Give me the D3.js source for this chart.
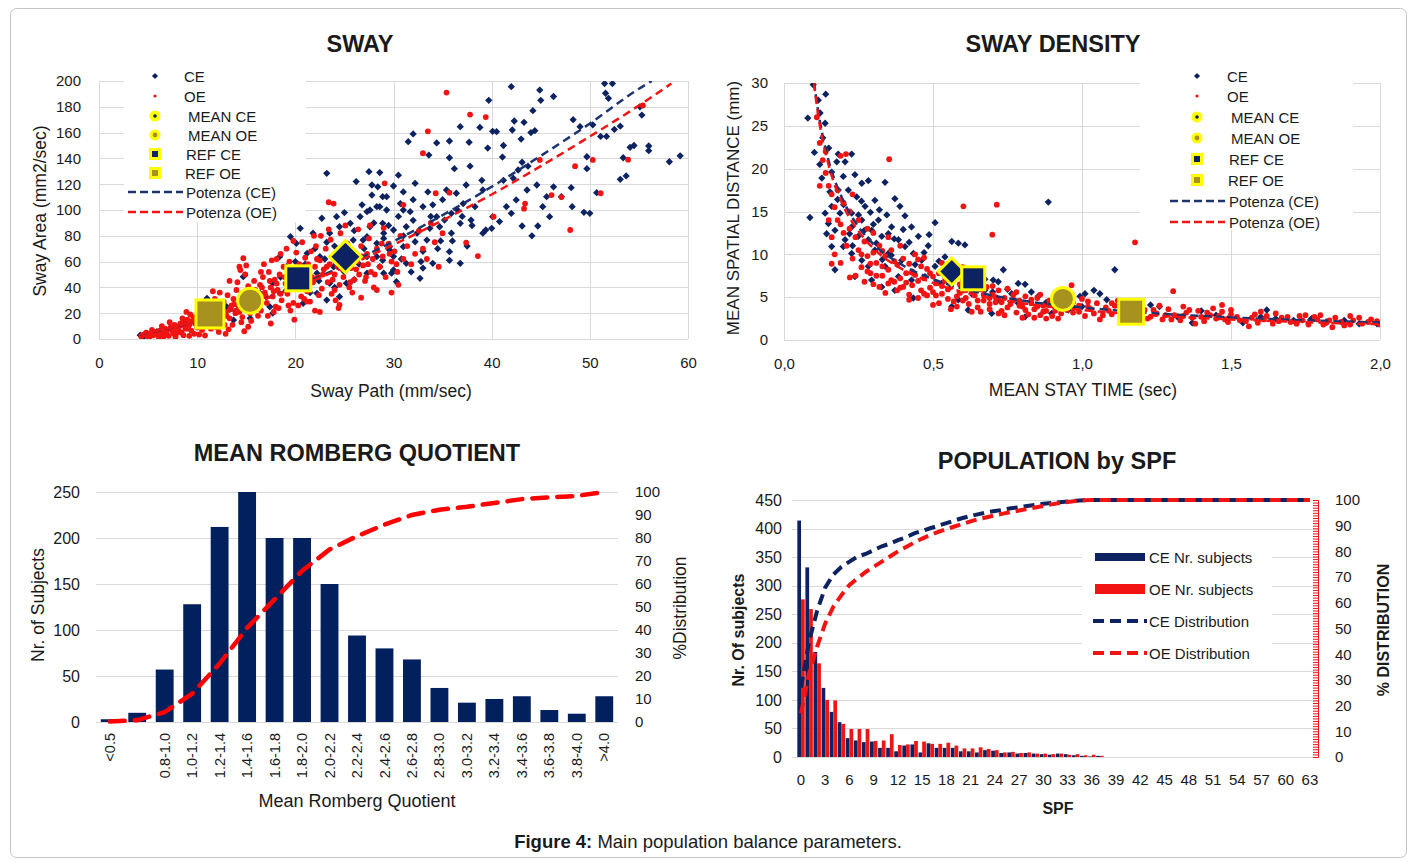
<!DOCTYPE html>
<html>
<head>
<meta charset="utf-8">
<title>Main population balance parameters</title>
<script src="https://cdnjs.cloudflare.com/ajax/libs/d3/7.8.5/d3.min.js"></script>
<style>
body { margin: 0; background: #fff; }
</style>
</head>
<body>
<svg id="fig" width="1414" height="862"></svg>
<script>
// ---------- SWAY (sway path vs sway area) ----------
var swayCE = [
[42.0,195.6],[44.9,193],[45.0,185],[46.3,188],[39.7,185],[44.2,177],[42.3,169],[43.3,168],[38.8,164],[36.8,164.6],[40.1,161],[40.5,160.7],[42.1,162],[44.0,160],[44.4,161.5],[32.0,159],[31.5,153],[34.4,152],[35.7,153.5],[37.7,152.5],[39.6,148],[41.2,150],[43.0,155],[33.6,142.6],[35.7,140.5],[37.8,134],[36.2,132],[41.1,141],[43.1,137],[43.7,134],[48.3,170],[49.0,164.6],[50.3,166],[51.1,157],[51.7,157],[52.5,162.5],[53.1,165],[51.6,190.5],[52.3,198],[51.5,198],[51.9,186.6],[55.3,173.6],[55.1,180],[54.5,150],[56.0,149.6],[56.0,146],[58.1,137.4],[59.2,142],[53.1,123.8],[53.7,126.4],[53.4,140.5],[54.1,148.6],[49.7,141.3],[50.7,113.4],[49.7,132],[48.1,117.3],[48.2,102.6],[49.4,98.2],[50.0,97.4],[47.1,110.3],[45.9,94.8],[45.2,102.6],[44.1,80],[43.1,87.6],[44.7,87.6],[42.0,97.4],[40.8,91],[40.1,94.8],[39.4,84.5],[35.7,61],[35.7,67.7],[34.8,76],[33.7,85.8],[32.2,75.4],[32.7,47],[31.8,52],[30.3,44.4],[29.8,51],[28.6,56],[28.6,129],[30.5,127],[32.2,120.7],[30.0,118.6],[27.8,119.4],[27.8,111.6],[28.9,110.3],[31.0,114],[33.5,114],[35.4,115.5],[36.4,113],[37.4,119.4],[39.0,123],[39.1,115.5],[38.3,102.6],[37.1,105],[35.9,97.4],[35.2,92.2],[34.4,94.8],[33.0,102.6],[31.7,98.7],[30.7,105],[29.3,100],[28.3,102.6],[27.3,98.7],[27.6,87],[28.9,89.7],[30.0,84.5],[31.3,87],[32.4,82],[33.4,76.7],[31.0,71.6],[29.6,71.6],[28.3,74.2],[26.9,76.7],[27.3,63.8],[28.9,61],[31.3,58.7],[34.0,58.7],[36.8,58.7],[34.7,87],[35.9,82],[36.8,89.7],[37.9,92.2],[39.1,82],[40.0,85.8],[41.5,102.6],[42.5,107.8],[43.6,115.5],[44.6,119.4],[46.3,118],[45.6,110.3],[41.2,123],[42.2,124.6],[42.7,131],
[23.2,128.4],[27.5,129.7],[26.2,122],[22.7,93.6],[24.2,94.8],[20.5,85.8],[19.5,79.3],[20.1,74.2],[18.4,63.8],[19.1,56],[17.7,43.2],[14.7,48.3],[11.0,31.5],[4.2,3],[4.9,4.4],[5.9,5.7],[6.9,7],[7.9,9.5],[8.8,12.2],[9.6,14.7],[13.7,14.7],[15.4,16],[17.7,20],[17.4,25],[20.8,27.7],[22.2,35.4],[23.5,43.2],[23.9,56],[22.5,63.8],[21.2,66.4],[21.8,82],[23.5,82],[24.5,87],[25.6,89.7],[26.6,94.8],[27.6,100],[28.6,102.6],[29.3,110.3],[28.4,118],[25.9,76.7],[27.3,79.3],[29.0,82],[26.2,63.8],[28.3,63.8],[29.6,69],[27.3,51],[29.0,51],[30.0,53.5],[22.2,51],[21.2,43.2],[19.1,38],[23.2,30.2],[24.5,32.8],[25.2,43.2],[16.4,35.4],[13.0,25],[4.5,1.5],[5.2,2],
[21,58],[22,70],[23,62],[24,72],[25,52],[26,84],[27,70],[28,90],[29,78],[30,64],[31,80],[32,92],[33,68],[34,104],[30.5,95],[29.5,88],[26.5,58],[25.5,70],[24.8,60],[23.2,75],[22.4,45],[32.8,60],[34.5,70],[36,76],[37,95],[38,88],[36.5,100],[35,108],[33.8,95],[32,108],[31,100],[26.8,104],[25,98],[20,60],[19.5,50],[18.5,48],[21.5,36],[24,40],[26,46],[30.8,62],[37.5,72],[33,55]
];
var swayOE = [
[4.3,2],[4.6,3.5],[5,1.5],[5.2,4],[5.5,2.8],[5.8,5.5],[6,3],[6.2,6.5],[4.8,5],[5.4,7],
[6.5,4],[6.7,8],[6.9,5.5],[7.1,2.5],[7.3,9],[7.5,6],[7.7,11],[7.9,4.5],[8,8.5],[6.4,10],[7.2,13],[7.8,7],
[8.2,10],[8.4,5],[8.6,13],[8.8,8],[9,15],[9.2,11],[9.4,6.5],[9.6,17],[9.8,12],[10,9],[8.5,16],[9.3,19],[8.9,21],[9.7,4],
[10.2,14],[10.4,20],[10.5,7],[10.7,17],[10.9,24],[11.1,11],[11.3,19],[11.5,27],[11.7,14],[11.9,22],[12,9],[10.6,28],[11.8,31],[10.1,25],
[12.2,18],[12.4,25],[12.5,13],[12.7,29],[12.9,21],[13.1,34],[13.3,16],[13.5,26],[13.7,31],[13.9,20],[14,38],[12.3,36],[13.6,11],[14.1,44],
[14.2,24],[14.4,30],[14.6,17],[14.8,35],[15,27],[15.2,41],[15.4,20],[15.6,33],[15.8,45],[16,25],[14.9,50],[15.5,14],[14.3,56],[15.9,38],
[16.2,31],[16.4,42],[16.5,22],[16.7,48],[16.9,36],[17.1,28],[17.3,52],[17.5,40],[17.7,33],[17.9,46],[18,25],[16.8,58],[17.6,61],[17.2,18],
[18.2,38],[18.4,50],[18.6,30],[18.8,56],[19,43],[19.2,35],[19.4,60],[19.6,48],[19.8,28],[20,53],[18.5,66],[19.5,22],[19.1,70],[18.3,24],
[20.2,40],[20.4,58],[20.6,33],[20.8,47],[21,63],[21.2,37],[21.4,52],[21.6,68],[21.8,44],[22,56],[20.7,75],[21.5,29],[22.1,72],[20.3,26],
[22.3,48],[22.5,61],[22.7,39],[22.9,54],[23.1,70],[23.3,44],[23.5,58],[23.7,35],[23.9,65],[24,50],[22.6,80],[23.6,77],[24.1,30],
[24.3,56],[24.5,42],[24.7,68],[24.9,48],[25.1,62],[25.3,74],[25.5,40],[25.7,55],[25.9,66],[26,46],[24.6,82],[25.8,36],
[26.3,60],[26.5,50],[26.7,72],[26.9,57],[27.1,45],[27.3,66],[27.5,78],[27.7,52],[27.9,62],[28,40],[26.4,85],[27.6,88],
[28.3,70],[28.6,56],[28.9,64],[29.2,48],[29.5,74],[29.8,60],[30.1,68],[30.4,52],[30.7,80],[31,62],[29,86],[30.5,42],
[31.4,72],[31.8,58],[32.2,66],[32.6,84],[33,70],[33.4,62],[33.8,90],[34.2,75],[34.6,56],[35,82],
[35.4,191],[37.8,174],[39.4,172],[33.5,161],[33.0,144],[35.7,113.4],[34.3,113],[31.0,104],[37.4,74.6],[38.6,64.3],[40.2,94.8],[46.1,111.6],[47.1,110],[48.0,84.5],[48.5,134],[50.3,138.8],[51.1,113],[53.9,139],[55.4,181],[43.4,105],[43.3,101],[44.9,138.8],[23.4,106],[23.9,105],[29.1,120.7],[14.7,62.6],[14.4,53.5],[22.5,21],[21.2,29],[28.3,38],[24.5,26.4],
[5.1,3.2],[5.7,4.2],[6.3,5],[6.8,6.8],[7.4,7.6],[7.6,4],[8.1,6.5],[8.3,12],[8.7,10.5],[9.1,8],[9.5,13.5],[9.9,16],[10.3,11.5],[10.8,14.5],[11.2,16.5],[11.6,20],[12.1,15],[12.6,22],[13,18],[13.4,24],[13.8,27],[14.3,21],[14.7,28],[15.1,23],[15.3,32],[15.7,29],[16.1,36],[16.3,27],[16.6,40],[17,33],[17.4,45],[17.8,37],[18.1,43],[18.5,35],[18.9,48],[19.3,40],[19.7,54],[19.9,44],[20.5,50],[20.9,42],[21.3,58],[21.7,48],[22.2,62],[22.8,50],[23.2,56],[23.8,46],[24.2,62],[24.8,54],[25.4,58],[26.2,54],[26.8,64],[27.4,58],[28.1,50],[28.8,74],[29.6,66],[30.3,58],[11.4,8],[12.8,11],[14.5,13],[16.2,18],[17.8,21],[19.3,26],[20.9,31],[22.4,34],[24,38],[25.6,44],[27.2,48],[10.2,3.5],[12.2,5.5],[9.2,2.5],[7.8,1.5],[13.2,7.5],[15.2,9.5],[15,57],[13.3,45],[11.6,37],[18.1,62],[16.5,52],[20.1,67],[21.9,80],[23.4,85],[25.1,88],[19.8,76],[6.1,1.2],[6.6,2],[8.6,3],[10.8,2.8],[12.9,4],[14.8,6],[17.5,12],[19.9,15],[22,22],[24.4,24],[26.7,32],[29.8,36]
];
var swayTrendXCE = [4.2, 8, 12, 16, 20, 25, 30, 35, 40, 45, 50, 55, 56.3];
var swayTrendCE = [3.6, 9.8, 18.3, 28.6, 40.4, 57, 75.7, 96, 118, 142, 167, 194, 200];
var swayTrendXOE = [4.2, 8, 12, 16, 20, 25, 30, 35, 40, 45, 50, 55, 58.3];
var swayTrendOE = [3.8, 10.1, 18.5, 28.5, 39.8, 55.6, 73, 92, 112, 134, 157, 181, 198];
var swayMeanCE = [25.1, 63.8], swayMeanOE = [15.4, 29.7], swayRefCE = [20.3, 47], swayRefOE = [11.3, 19.4];
var swayXTicks = [0, 10, 20, 30, 40, 50, 60];
var swayYTicks = [0, 20, 40, 60, 80, 100, 120, 140, 160, 180, 200];

// ---------- SWAY DENSITY ----------
var densCE = [
[0.098,29.8],[0.115,28],[0.140,28.7],[0.121,26.5],[0.138,25.3],[0.080,25.9],[0.102,21.9],[0.182,21.7],[0.227,21.7],[0.205,20.8],[0.177,20.8],[0.127,18.9],[0.199,19.1],[0.238,19.3],[0.283,18.6],[0.339,18.4],[0.087,14.3],[0.154,17.3],[0.160,15.6],[0.149,13.6],[0.143,12.4],[0.171,8.2],[0.238,7.4],[0.372,16.5],[0.389,15.6],[0.345,14.6],[0.406,14.5],[0.428,13.2],[0.451,12.1],[0.487,12.3],[0.507,13.7],[0.563,11.5],[0.585,11.3],[0.607,11.1],[0.484,11.0],[0.434,10.1],[0.462,9.3],[0.736,8.2],[0.702,7.0],[0.674,7.1],[0.719,6.8],[0.786,6.6],[0.809,6.5],[0.887,16.1],[0.328,6.2],[0.372,5.8],[0.434,4.9],[0.294,7.0],[0.283,8.6],[0.227,10.1],[0.199,10.9],[0.227,14.8],[0.261,14.0],[0.272,15.6],[0.305,16.3],[0.244,16.7],[0.216,17.5],[0.182,17.5],[0.188,14.8],[0.171,12.8],[0.205,11.7],[0.249,12.1],[0.294,12.8],[0.328,12.1],[0.361,13.2],[0.384,11.7],[0.305,10.5],[0.350,10.1],[0.395,9.3],[0.339,8.6],[0.384,7.4],[0.428,7.0],[0.473,7.4],[0.507,8.6],[0.529,6.6],[0.261,9.3],[0.227,13.2],[0.283,11.7],[0.317,14.0],[0.406,10.9],[0.261,18.3],[0.160,10.9],[0.138,14.8],[0.540,9.7],[0.630,5.4],[0.674,5.8],[0.764,5.4],[0.853,5.1],[0.921,4.7],[1.01,5.4],[1.04,5.8],[0.786,4.3],[0.719,4.7],[0.585,4.7],[0.563,3.9],[0.618,3.5],[0.697,3.1],[0.809,2.7],[0.898,3.1],[0.954,3.5],
[1.11,8.2],[1.06,5.4],[1.083,4.7],[1.62,3.5],[1.26,3.9],[1.23,4.1],[1.37,2.0],[1.54,2.0],[1.40,3.4],[1.32,2.7],[1.49,2.5],[1.71,2.3],[1.82,2.1],[1.93,1.9],[1.99,1.9],[0.97,3.9],[0.993,5.1],[1.13,3.1],[1.18,3.7],[1.45,2.9],[1.60,2.7],[1.65,2.5],[1.77,2.5],[1.88,2.3],
[0.3,13.5],[0.32,15.2],[0.27,12.8],[0.35,12.4],[0.31,11.3],[0.25,14.6],[0.22,12.4],[0.2,15.8],[0.18,16.4],[0.16,19.6],[0.15,22.4],[0.13,23.6],[0.12,20.5],[0.33,9.4],[0.37,11.8],[0.42,11.4],[0.44,8.8],[0.47,10.2],[0.52,9.2],[0.55,7.8],[0.58,8.4],[0.62,6.9],[0.66,6.2],[0.7,5.6],[0.75,5.9],[0.83,5.6],[0.88,4.4],[0.95,4.4],[1.0,3.9],[0.26,16.2],[0.29,14.9],[0.36,9.9],[0.4,12.9],[0.23,11]
];
var densOE = [
[0.11,26],[0.12,23],[0.13,21],[0.14,19.5],[0.15,18],[0.16,17],[0.17,15.5],[0.18,14],[0.19,13.5],[0.2,12.5],[0.16,12],[0.18,17.5],[0.2,16],[0.15,14],[0.14,22],[0.17,10],[0.19,9],[0.12,18],
[0.21,11],[0.22,13],[0.23,9.5],[0.24,12],[0.25,10.5],[0.26,8.5],[0.27,11.5],[0.28,9.8],[0.29,7.8],[0.3,10.2],[0.22,15],[0.25,14],[0.28,13],[0.24,7.5],[0.27,6.8],[0.3,12.5],[0.29,8.9],
[0.31,9],[0.32,11],[0.33,7.5],[0.34,9.8],[0.35,8.2],[0.36,10.5],[0.37,6.8],[0.38,8.8],[0.39,7.2],[0.4,9.5],[0.32,6.2],[0.35,12],[0.38,5.8],[0.33,10.4],[0.36,7],[0.4,6.2],[0.34,5.5],[0.39,11],
[0.41,7.8],[0.42,8.9],[0.43,6.4],[0.44,7.6],[0.45,9.4],[0.46,5.8],[0.47,7.2],[0.48,8.3],[0.49,6.1],[0.5,7.4],[0.42,5.3],[0.45,4.9],[0.48,5.2],[0.44,10],[0.47,9.6],[0.5,5.6],
[0.51,6.6],[0.52,7.8],[0.53,5.4],[0.54,6.9],[0.55,4.8],[0.56,6.2],[0.57,7.4],[0.58,5.1],[0.59,6.5],[0.6,4.6],[0.52,4.3],[0.55,8.2],[0.58,3.9],[0.6,7],[0.53,9],
[0.61,5.8],[0.62,4.2],[0.63,6.4],[0.64,5.2],[0.65,3.8],[0.66,5.9],[0.67,4.6],[0.68,6.2],[0.69,3.6],[0.7,5.3],[0.71,4.4],[0.72,5.8],[0.73,3.4],[0.74,4.9],[0.75,6],[0.63,3.3],[0.69,4.9],[0.72,3.1],
[0.76,4.2],[0.77,5.3],[0.78,3.2],[0.79,4.6],[0.8,3.9],[0.81,5.1],[0.82,3],[0.83,4.3],[0.84,3.6],[0.85,4.9],[0.86,2.9],[0.87,4],[0.88,3.4],[0.89,4.6],[0.9,2.8],[0.91,3.8],[0.92,4.4],[0.93,3.1],[0.94,3.6],[0.95,4.8],[0.8,2.6],[0.88,2.5],
[0.97,3.2],[0.99,4],[1.01,2.8],[1.03,3.6],[1.05,4.3],[1.07,2.9],[1.09,3.4],[1.11,4],[1.13,2.7],[1.15,3.3],[1.17,3.9],[1.19,2.6],[1.0,4.8],[1.06,2.4],[1.12,4.6],[1.18,3],
[1.21,3.5],[1.23,2.7],[1.25,3.1],[1.27,2.4],[1.29,3.6],[1.31,2.9],[1.33,2.3],[1.35,3.2],[1.37,2.6],[1.39,3.4],[1.41,2.2],[1.43,2.9],[1.45,2.5],[1.47,3.3],[1.49,2.1],[1.26,4],[1.38,1.9],[1.44,3.7],
[1.52,2.7],[1.55,2.2],[1.58,3],[1.61,2.4],[1.64,1.9],[1.67,2.6],[1.7,2.1],[1.73,2.8],[1.76,1.8],[1.79,2.4],[1.82,2],[1.85,2.6],[1.88,1.7],[1.91,2.3],[1.94,1.9],[1.97,2.4],[2.0,1.8],[1.6,3.3],[1.75,2.9],[1.9,2.8],[1.56,1.6],[1.84,1.5],
[0.208,21.7],[0.353,21.1],[0.602,15.6],[0.714,15.8],[0.699,12.3],[0.965,6.4],[0.16,8.9],[0.221,7.3],[1.178,11.4],[1.306,5.7],[1.47,4.1],[0.19,21.5],[0.6,8.5],[0.23,17],
[0.26,10],[0.28,8],[0.31,7.5],[0.33,8.6],[0.35,6.6],[0.37,9.2],[0.39,6.1],[0.41,6.7],[0.43,8],[0.45,6.9],[0.47,5.4],[0.49,7.8],[0.51,5.2],[0.53,6.3],[0.55,5.9],[0.57,4.5],[0.59,5.5],[0.61,4.9],[0.63,5.6],[0.65,4.6],[0.67,5.3],[0.69,4.2],[0.71,5],[0.73,4.4],[0.75,3.8],[0.77,4.7],[0.79,4],[0.81,3.5],[0.83,4.7],[0.85,3.9],[0.87,3.3],[0.89,4.1],[0.91,3.4],[0.93,4],[0.95,3.5],[0.97,4.4],[0.99,3.3],[1.02,3.9],[1.04,3.1],[1.08,3.8],[1.1,3],[1.14,3.6],[1.16,2.8],[1.2,3.2],[1.22,2.5],[1.24,3.5],[1.28,2.9],[1.3,2.4],[1.34,2.8],[1.36,3.5],[1.4,2.7],[1.42,3.2],[1.46,2.8],[1.48,2.4],[1.5,3],[1.53,2.3],[1.57,2.6],[1.59,2],[1.62,2.8],[1.66,2.2],[1.69,2.7],[1.72,1.9],[1.74,2.3],[1.78,2.7],[1.81,1.8],[1.83,2.3],[1.87,2.1],[1.9,1.8],[1.93,2.6],[1.96,2.1],[1.99,2.2],[0.56,3.6],[0.66,3.3],[0.74,2.9],[0.84,2.6],[0.92,2.5],[0.3,6.5],[0.42,4.7],[0.5,4.1],[0.46,8.6],[0.54,7.4],[0.62,6.7],[0.7,6.3],[0.78,5.6],[0.86,5.3],[0.94,5.1],[1.02,4.5],[1.1,4.3],[1.2,4.2],[1.34,3.9],[1.5,3.5],[1.65,3.1],[1.8,2.9]
];
var densTrendX = [0.1, 0.12, 0.15, 0.2, 0.25, 0.3, 0.4, 0.5, 0.6, 0.8, 1.0, 1.25, 1.5, 1.75, 2.0];
var densTrendCE = [30.2, 25.6, 20.9, 16.2, 13.2, 11.2, 8.7, 7.1, 6.0, 4.6, 3.8, 3.1, 2.64, 2.3, 2.04];
var densTrendXOE = [0.09, 0.12, 0.15, 0.2, 0.25, 0.3, 0.4, 0.5, 0.6, 0.8, 1.0, 1.25, 1.5, 1.75, 2.0];
var densTrendOE = [33, 25.1, 20.4, 15.6, 12.7, 10.7, 8.2, 6.67, 5.6, 4.3, 3.5, 2.84, 2.4, 2.08, 1.84];
var densMeanCE = [0.563, 8.0], densMeanOE = [0.936, 4.8], densRefCE = [0.635, 7.2], densRefOE = [1.165, 3.3];
var densXTicks = [0, 0.5, 1.0, 1.5, 2.0];
var densYTicks = [0, 5, 10, 15, 20, 25, 30];

// ---------- MEAN ROMBERG QUOTIENT ----------
var rombergLabels = ["<0.5", "", "0.8-1.0", "1.0-1.2", "1.2-1.4", "1.4-1.6", "1.6-1.8", "1.8-2.0", "2.0-2.2", "2.2-2.4",
                     "2.4-2.6", "2.6-2.8", "2.8-3.0", "3.0-3.2", "3.2-3.4", "3.4-3.6", "3.6-3.8", "3.8-4.0", ">4.0"];
var rombergCounts = [3, 10, 57, 128, 212, 250, 200, 200, 150, 94, 80, 68, 37, 21, 25, 28, 13, 9, 28];
var rombergCum = [0.2, 0.8, 4.3, 12.3, 25.4, 40.9, 53.3, 65.7, 75.0, 80.8, 85.8, 90.0, 92.3, 93.6, 95.2, 96.9, 97.7, 98.3, 100];
var rombergYTicks = [0, 50, 100, 150, 200, 250];
var pctTicks = [0, 10, 20, 30, 40, 50, 60, 70, 80, 90, 100];

// ---------- POPULATION by SPF ----------
var spfCE = [414, 332, 184, 121, 79, 61, 33, 29, 26, 27, 16, 16, 10, 20, 22, 8, 24, 16, 16, 16, 10, 10, 8, 12, 11, 7, 8, 6, 7, 6, 5, 4,
             6, 5, 3, 2, 1, 2, 0, 0, 0, 0, 0, 0, 0, 0, 0, 0, 0, 0, 0, 0, 0, 0, 0, 0, 0, 0, 0, 0, 0, 0, 0, 0];
var spfOE = [276, 259, 164, 100, 99, 58, 49, 49, 49, 28, 29, 40, 21, 22, 28, 27, 23, 23, 25, 20, 15, 15, 17, 14, 12, 8, 9, 7, 8, 6, 6, 5,
             6, 4, 5, 3, 4, 2, 0, 0, 0, 0, 0, 0, 0, 0, 0, 0, 0, 0, 0, 0, 0, 0, 0, 0, 0, 0, 0, 0, 0, 0, 0, 0];
var spfDistCE = [27, 45, 57, 66, 71, 74, 76, 78, 79, 80.5, 82, 83, 84.4, 85.5, 87, 88, 89, 90, 91, 92, 93, 93.8, 94.5, 95.2, 95.7, 96.2,
                 96.8, 97.2, 97.7, 98.1, 98.5, 98.8, 99.1, 99.4, 99.7, 99.9, 100, 100, 100, 100, 100, 100, 100, 100, 100, 100, 100, 100,
                 100, 100, 100, 100, 100, 100, 100, 100, 100, 100, 100, 100, 100, 100, 100, 100];
var spfDistOE = [17, 32.6, 43, 52, 58.5, 63, 67, 69.5, 72, 74, 76, 78, 80, 81.7, 83.4, 85, 86.4, 87.6, 88.7, 89.7, 90.7, 91.7, 92.6, 93.3,
                 94, 94.7, 95.3, 95.9, 96.5, 97.1, 97.7, 98.3, 98.8, 99.2, 99.6, 99.9, 100, 100, 100, 100, 100, 100, 100, 100, 100, 100,
                 100, 100, 100, 100, 100, 100, 100, 100, 100, 100, 100, 100, 100, 100, 100, 100, 100, 100];
var spfYTicks = [0, 50, 100, 150, 200, 250, 300, 350, 400, 450];

// ---------- drawing ----------
var FONT = "'Liberation Sans', Arial, Helvetica, sans-serif";
var NAVY = "#0d2260";
var RED = "#f21313";
var YEL = "#ffff00";
var OLIVE = "#a8921f";
var GRID = "#d9d9d9";
var INK = "#1a1a1a";
var DOT = d3.symbolDiamond2 || d3.symbolDiamond;

var svg = d3.select("#fig");
var comma = d3.formatLocale({decimal: ",", thousands: ".", grouping: [3], currency: ["", ""]}).format(".1f");

svg.append("rect").attr("x", 10.5).attr("y", 8.5).attr("width", 1396).attr("height", 849)
   .attr("rx", 6).attr("fill", "none").attr("stroke", "#c4c4c4");

function label(x, y, txt, size, opts) {
    opts = opts || {};
    var t = svg.append("text")
        .attr("x", x).attr("y", y)
        .attr("font-family", FONT).attr("font-size", size)
        .attr("fill", INK)
        .attr("text-anchor", opts.anchor || "middle")
        .attr("dominant-baseline", "central")
        .attr("font-weight", opts.bold ? "bold" : "normal")
        .text(txt);
    if (opts.rotate) t.attr("transform", "rotate(-90," + x + "," + y + ")");
    return t;
}

function styleAxis(g, size) {
    g.attr("font-family", FONT);
    g.select(".domain").remove();
    g.selectAll(".tick line").remove();
    g.selectAll("text").attr("font-size", size).attr("fill", INK);
}

function hGrid(g, y, ticks, x0, x1) {
    g.selectAll(null).data(ticks).enter().append("line")
        .attr("x1", x0).attr("x2", x1)
        .attr("y1", function(d) { return Math.round(y(d)) + 0.5; })
        .attr("y2", function(d) { return Math.round(y(d)) + 0.5; })
        .attr("stroke", GRID);
}

function marker(g, type, cx, cy, s, fill) {
    if (type === "circle") {
        g.append("circle").attr("cx", cx).attr("cy", cy).attr("r", s / 2)
            .attr("fill", fill).attr("stroke", YEL).attr("stroke-width", 3);
    } else if (type === "square") {
        g.append("rect").attr("x", cx - s / 2).attr("y", cy - s / 2).attr("width", s).attr("height", s)
            .attr("fill", fill).attr("stroke", YEL).attr("stroke-width", 3);
    } else {
        var h = s / 2;
        g.append("path").attr("d", "M" + cx + "," + (cy - h) + "L" + (cx + h) + "," + cy + "L" + cx + "," + (cy + h) + "L" + (cx - h) + "," + cy + "Z")
            .attr("fill", fill).attr("stroke", YEL).attr("stroke-width", 3);
    }
}

function scatterPanel(o) {
    var x = d3.scaleLinear().domain(o.xDomain).range(o.xRange);
    var y = d3.scaleLinear().domain(o.yDomain).range(o.yRange);
    var g = svg.append("g");

    // grid + frame
    hGrid(g, y, o.yTicks, o.xRange[0], o.xRange[1]);
    g.selectAll(null).data(o.xTicks).enter().append("line")
        .attr("y1", o.yRange[0]).attr("y2", o.yRange[1])
        .attr("x1", function(d) { return Math.round(x(d)) + 0.5; })
        .attr("x2", function(d) { return Math.round(x(d)) + 0.5; })
        .attr("stroke", GRID);

    g.append("g").attr("transform", "translate(0," + o.yRange[0] + ")")
        .call(d3.axisBottom(x).tickValues(o.xTicks).tickFormat(o.xFmt).tickSize(0).tickPadding(18))
        .call(styleAxis, 15);
    g.append("g").attr("transform", "translate(" + o.xRange[0] + ",0)")
        .call(d3.axisLeft(y).tickValues(o.yTicks).tickSize(0).tickPadding(o.yPad))
        .call(styleAxis, 15);

    // legend background hides the grid
    g.append("rect").attr("x", o.legBox[0]).attr("y", o.legBox[1]).attr("width", o.legBox[2]).attr("height", o.legBox[3])
        .attr("fill", "#fff");

    var clipId = "clip" + o.id;
    svg.append("clipPath").attr("id", clipId).append("rect")
        .attr("x", o.xRange[0]).attr("y", o.yRange[1]).attr("width", o.xRange[1] - o.xRange[0]).attr("height", o.yRange[0] - o.yRange[1]);

    var pts = g.append("g").attr("clip-path", "url(#" + clipId + ")");
    pts.selectAll(null).data(o.ce).enter().append("path")
        .attr("d", d3.symbol(DOT, 34))
        .attr("transform", function(d) { return "translate(" + x(d[0]) + "," + y(d[1]) + ")"; })
        .attr("fill", NAVY);
    pts.selectAll(null).data(o.oe).enter().append("circle")
        .attr("cx", function(d) { return x(d[0]); })
        .attr("cy", function(d) { return y(d[1]); })
        .attr("r", 2.9)
        .attr("fill", RED);

    var line = d3.line().curve(d3.curveMonotoneX)
        .x(function(d) { return x(d[0]); }).y(function(d) { return y(d[1]); });
    pts.append("path").datum(d3.zip(o.trendXCE, o.trendCE)).attr("d", line)
        .attr("fill", "none").attr("stroke", "#1c3470").attr("stroke-width", 2.5).attr("stroke-dasharray", "8,5");
    pts.append("path").datum(d3.zip(o.trendXOE, o.trendOE)).attr("d", line)
        .attr("fill", "none").attr("stroke", RED).attr("stroke-width", 2.5).attr("stroke-dasharray", "8,5");

    // mean / reference markers
    marker(g, "square", x(o.refOE[0]), y(o.refOE[1]), o.sz[0], OLIVE);
    marker(g, "circle", x(o.meanOE[0]), y(o.meanOE[1]), o.sz[1], OLIVE);
    marker(g, "diamond", x(o.meanCE[0]), y(o.meanCE[1]), o.sz[3], NAVY);
    marker(g, "square", x(o.refCE[0]), y(o.refCE[1]), o.sz[2], NAVY);

    // legend
    var lx = o.legSym, tx = o.legText, r = o.legRows;
    g.append("path").attr("d", d3.symbol(DOT, 24)).attr("transform", "translate(" + lx + "," + r[0] + ")").attr("fill", NAVY);
    g.append("circle").attr("cx", lx).attr("cy", r[1]).attr("r", 1.6).attr("fill", RED);
    g.append("circle").attr("cx", lx).attr("cy", r[2]).attr("r", 5.5).attr("fill", YEL);
    g.append("circle").attr("cx", lx).attr("cy", r[2]).attr("r", 1.8).attr("fill", NAVY);
    g.append("circle").attr("cx", lx).attr("cy", r[3]).attr("r", 5.5).attr("fill", YEL);
    g.append("circle").attr("cx", lx).attr("cy", r[3]).attr("r", 2.4).attr("fill", OLIVE);
    g.append("rect").attr("x", lx - 6).attr("y", r[4] - 6).attr("width", 12).attr("height", 12).attr("fill", YEL);
    g.append("rect").attr("x", lx - 3).attr("y", r[4] - 3).attr("width", 6).attr("height", 6).attr("fill", NAVY);
    g.append("rect").attr("x", lx - 6).attr("y", r[5] - 6).attr("width", 12).attr("height", 12).attr("fill", YEL);
    g.append("rect").attr("x", lx - 3).attr("y", r[5] - 3).attr("width", 6).attr("height", 6).attr("fill", OLIVE);
    g.append("line").attr("x1", lx - 27).attr("x2", lx + 28).attr("y1", r[6]).attr("y2", r[6])
        .attr("stroke", "#1c3470").attr("stroke-width", 2.5).attr("stroke-dasharray", "8,4");
    g.append("line").attr("x1", lx - 27).attr("x2", lx + 28).attr("y1", r[7]).attr("y2", r[7])
        .attr("stroke", RED).attr("stroke-width", 2.5).attr("stroke-dasharray", "8,4");
    var names = ["CE", "OE", "MEAN CE", "MEAN OE", "REF CE", "REF OE", "Potenza (CE)", "Potenza (OE)"];
    var shift = [0, 0, 4, 4, 2, 1, 2, 2];
    names.forEach(function(n, i) {
        label(tx + shift[i], r[i], n, 15, {anchor: "start"});
    });
}

// SWAY
label(360, 44, "SWAY", 23.5, {bold: true});
scatterPanel({
    id: "a", xDomain: [0, 60], xRange: [99, 688], yDomain: [0, 200], yRange: [339, 81],
    xTicks: swayXTicks, yTicks: swayYTicks, xFmt: d3.format("d"), yPad: 18,
    ce: swayCE, oe: swayOE,
    trendXCE: swayTrendXCE, trendCE: swayTrendCE, trendXOE: swayTrendXOE, trendOE: swayTrendOE,
    meanCE: swayMeanCE, meanOE: swayMeanOE, refCE: swayRefCE, refOE: swayRefOE, sz: [28, 25, 25, 32],
    legBox: [124, 64, 182, 158], legSym: 155, legText: 184, legRows: [76, 96, 116, 135, 154, 173, 192, 212]
});
label(40, 211, "Sway Area (mm2/sec)", 17.5, {rotate: true});
label(391, 391, "Sway Path (mm/sec)", 17.5);

// SWAY DENSITY
label(1053, 44, "SWAY DENSITY", 23.5, {bold: true});
scatterPanel({
    id: "b", xDomain: [0, 2], xRange: [784, 1380], yDomain: [0, 30], yRange: [340, 83],
    xTicks: densXTicks, yTicks: densYTicks, xFmt: comma, yPad: 16,
    ce: densCE, oe: densOE,
    trendXCE: densTrendX, trendCE: densTrendCE, trendXOE: densTrendXOE, trendOE: densTrendOE,
    meanCE: densMeanCE, meanOE: densMeanOE, refCE: densRefCE, refOE: densRefOE, sz: [25, 23, 23, 27],
    legBox: [1140, 64, 213, 166], legSym: 1197, legText: 1227, legRows: [76, 96, 117, 138, 159, 180, 201, 222]
});
label(733, 208, "MEAN SPATIAL DISTANCE (mm)", 17, {rotate: true});
label(1083, 390, "MEAN STAY TIME (sec)", 17.5);

// MEAN ROMBERG QUOTIENT
(function() {
    var x = d3.scaleBand().domain(d3.range(rombergCounts.length)).range([96, 618]).paddingInner(0.35).paddingOuter(0.175);
    var y = d3.scaleLinear().domain([0, 250]).range([722, 492]);
    var yR = d3.scaleLinear().domain([0, 100]).range([722, 492]);
    var g = svg.append("g");
    hGrid(g, y, rombergYTicks, 96, 618);

    g.append("g").attr("transform", "translate(96,0)")
        .call(d3.axisLeft(y).tickValues(rombergYTicks).tickSize(0).tickPadding(16))
        .call(styleAxis, 16);
    g.append("g").attr("transform", "translate(618,0)")
        .call(d3.axisRight(yR).tickValues(pctTicks).tickSize(0).tickPadding(17))
        .call(styleAxis, 15);
    var xa = g.append("g").attr("transform", "translate(0,722)")
        .call(d3.axisBottom(x).tickFormat(function(i) { return rombergLabels[i]; }).tickSize(0))
        .call(styleAxis, 14.5);
    xa.selectAll("text").attr("transform", "rotate(-90)").attr("text-anchor", "end")
        .attr("x", -11).attr("y", 0).attr("dy", "0.35em");

    g.selectAll(null).data(rombergCounts).enter().append("rect")
        .attr("x", function(d, i) { return x(i); })
        .attr("width", x.bandwidth())
        .attr("y", function(d) { return y(d); })
        .attr("height", function(d) { return 722 - y(d); })
        .attr("fill", "#03205e");

    var line = d3.line()
        .x(function(d, i) { return x(i) + x.bandwidth() / 2; })
        .y(function(d) { return yR(d); });
    g.append("path").datum(rombergCum).attr("d", line)
        .attr("fill", "none").attr("stroke", "#ff0000").attr("stroke-width", 4.5)
        .attr("stroke-dasharray", "15,10").attr("stroke-linecap", "round");
})();
label(357, 453, "MEAN ROMBERG QUOTIENT", 23.5, {bold: true});
label(38, 605, "Nr. of Subjects", 17.5, {rotate: true});
label(680, 608, "%Distribution", 17.5, {rotate: true});
label(357, 801, "Mean Romberg Quotient", 18);

// POPULATION by SPF
(function() {
    var x = d3.scaleBand().domain(d3.range(spfCE.length)).range([797, 1314]).paddingInner(0.08).paddingOuter(0.04);
    var sub = d3.scaleBand().domain(["CE", "OE"]).range([0, x.bandwidth()]).padding(0);
    var y = d3.scaleLinear().domain([0, 450]).range([757, 500]);
    var yR = d3.scaleLinear().domain([0, 100]).range([757, 500]);
    var g = svg.append("g");
    hGrid(g, y, spfYTicks, 792, 1318);

    g.append("g").attr("transform", "translate(792,0)")
        .call(d3.axisLeft(y).tickValues(spfYTicks).tickSize(0).tickPadding(10))
        .call(styleAxis, 16);
    g.append("g").attr("transform", "translate(0,757)")
        .call(d3.axisBottom(x).tickValues(x.domain().filter(function(d) { return d % 3 === 0; })).tickSize(0).tickPadding(17))
        .call(styleAxis, 15);

    // legend background
    g.append("rect").attr("x", 1082).attr("y", 540).attr("width", 190).attr("height", 125).attr("fill", "#fff");

    g.selectAll(null).data(spfCE).enter().append("rect")
        .attr("x", function(d, i) { return x(i) + sub("CE"); })
        .attr("width", sub.bandwidth())
        .attr("y", function(d) { return y(d); })
        .attr("height", function(d) { return 757 - y(d); })
        .attr("fill", NAVY);
    g.selectAll(null).data(spfOE).enter().append("rect")
        .attr("x", function(d, i) { return x(i) + sub("OE"); })
        .attr("width", sub.bandwidth())
        .attr("y", function(d) { return y(d); })
        .attr("height", function(d) { return 757 - y(d); })
        .attr("fill", RED);

    var line = d3.line()
        .x(function(d, i) { return x(i) + x.bandwidth() / 2; })
        .y(function(d) { return yR(d); });
    g.append("path").datum(spfDistCE).attr("d", line)
        .attr("fill", "none").attr("stroke", NAVY).attr("stroke-width", 4).attr("stroke-dasharray", "11,6");
    g.append("path").datum(spfDistOE).attr("d", line)
        .attr("fill", "none").attr("stroke", RED).attr("stroke-width", 4).attr("stroke-dasharray", "11,6");

    // red secondary axis with minor ticks
    var ra = g.append("g").attr("transform", "translate(1318,0)")
        .call(d3.axisLeft(yR).ticks(100).tickSize(5).tickFormat(""));
    ra.selectAll("line, path").attr("stroke", RED);
    g.append("g").attr("transform", "translate(1318,0)")
        .call(d3.axisRight(yR).tickValues(pctTicks).tickSize(0).tickPadding(17))
        .call(styleAxis, 15);

    // legend
    g.append("rect").attr("x", 1095).attr("y", 553).attr("width", 50).attr("height", 8).attr("fill", NAVY);
    g.append("rect").attr("x", 1095).attr("y", 584).attr("width", 50).attr("height", 10).attr("fill", RED);
    g.append("line").attr("x1", 1093).attr("x2", 1147).attr("y1", 621).attr("y2", 621)
        .attr("stroke", NAVY).attr("stroke-width", 4).attr("stroke-dasharray", "11,6");
    g.append("line").attr("x1", 1093).attr("x2", 1147).attr("y1", 653).attr("y2", 653)
        .attr("stroke", RED).attr("stroke-width", 4).attr("stroke-dasharray", "11,6");
})();
label(1149, 557, "CE Nr. subjects", 15, {anchor: "start"});
label(1149, 589, "OE Nr. subjects", 15, {anchor: "start"});
label(1149, 621, "CE Distribution", 15, {anchor: "start"});
label(1149, 653, "OE Distribution", 15, {anchor: "start"});
label(1057, 461, "POPULATION by SPF", 23.5, {bold: true});
label(738, 630, "Nr. Of subjects", 16, {rotate: true, bold: true});
label(1383, 630, "% DISTRIBUTION", 16, {rotate: true, bold: true});
label(1058, 808, "SPF", 16, {bold: true});

// caption
var cap = svg.append("text").attr("x", 708).attr("y", 841)
    .attr("font-family", FONT).attr("font-size", 18.5).attr("fill", INK)
    .attr("text-anchor", "middle").attr("dominant-baseline", "central");
cap.append("tspan").attr("font-weight", "bold").text("Figure 4:");
cap.append("tspan").text(" Main population balance parameters.");
</script>
</body>
</html>
